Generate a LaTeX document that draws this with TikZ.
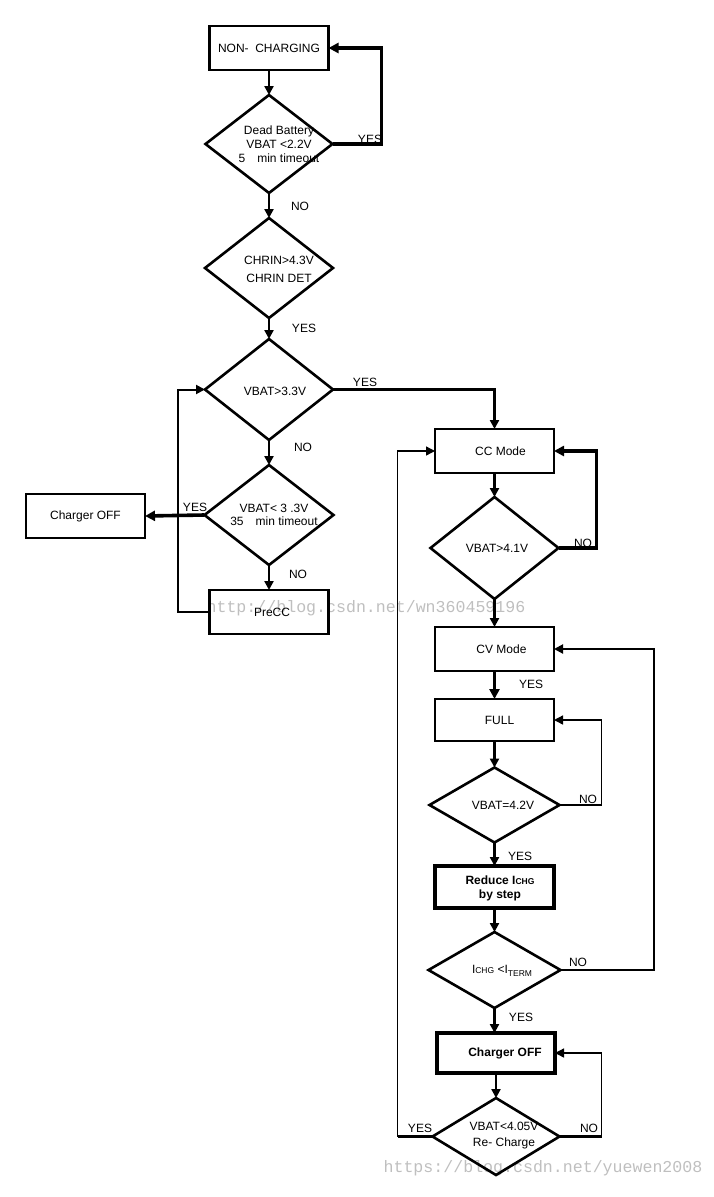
\documentclass[tikz,border=0pt]{standalone}
\usepackage{fontspec}
\setmainfont{Liberation Sans}
\setmonofont{Liberation Mono}
\usetikzlibrary{arrows.meta,shapes.geometric}
\begin{document}
\begin{tikzpicture}[x=1pt,y=-1pt,
  box/.style={draw, line width=2.6pt, minimum width=119pt, minimum height=44pt, inner sep=0pt, outer sep=0pt, font=\fontsize{12}{14}\selectfont},
  boxb/.style={box, line width=4pt, font=\fontsize{12}{14}\selectfont\bfseries},
  dia/.style={draw, diamond, line width=2.6pt, inner sep=0pt, outer sep=0pt},
  txt/.style={inner sep=0pt, align=center, font=\fontsize{12}{14}\selectfont},
  lbl/.style={inner sep=0pt, font=\fontsize{12}{14}\selectfont},
  wm/.style={inner sep=0pt, font=\ttfamily\fontsize{16.6}{18}\selectfont, text=black!25},
  conn/.style={line width=2.6pt},
  arr/.style={conn, -{Triangle[length=9pt,width=9pt]}},
  arrthick/.style={line width=3.6pt, -{Triangle[length=10pt,width=10pt]}},
  arrthin/.style={line width=1.4pt, -{Triangle[length=9pt,width=9pt]}},
  arrmid/.style={line width=2pt, -{Triangle[length=9pt,width=9pt]}},
  thickline/.style={line width=3.8pt}
]
\useasboundingbox (0,0) rectangle (713,1197);
% watermarks
\node[wm] (wm1) at (366,608) {http://blog.csdn.net/wn360459196};
\node[wm] (wm2) at (543,1168) {https://blog.csdn.net/yuewen2008};

% left column
\node[box] (nc) at (269,48) {NON-\ \ CHARGING};
\node[dia, minimum width=127pt, minimum height=98pt] (d1) at (269,144) {};
\node[txt] (t1) at (279,144) {Dead Battery\\VBAT <2.2V\\5\quad min timeout};
\node[dia, minimum width=128pt, minimum height=100pt] (d2) at (269,268) {};
\node[txt] (t2) at (279,269) {CHRIN>4.3V\\[4pt]CHRIN DET};
\node[dia, minimum width=128pt, minimum height=101pt] (d3) at (269,389.5) {};
\node[txt] (t3) at (275,391) {VBAT>3.3V};
\node[dia, minimum width=129pt, minimum height=100pt] (d4) at (269,515) {};
\node[txt] (t4) at (274,515) {VBAT< 3 .3V\\[-1pt]35\quad min timeout};
\node[box] (off1) at (85.5,516) {Charger OFF};
\node[box] (pre) at (269,612) {\hspace*{6pt}PreCC};

% right column
\node[box] (cc) at (494.5,451) {\hspace*{12pt}CC Mode};
\node[dia, minimum width=128pt, minimum height=102pt] (d5) at (494.5,548) {};
\node[txt] (t5) at (497,548) {VBAT>4.1V};
\node[box] (cv) at (494.5,649) {\hspace*{14pt}CV Mode};
\node[box, minimum height=42pt] (full) at (494.5,720) {\hspace*{10pt}FULL};
\node[dia, minimum width=130pt, minimum height=75pt] (d6) at (494.5,805) {};
\node[txt] (t6) at (503,805) {VBAT=4.2V};
\node[boxb, minimum height=42pt] (red) at (494.5,887) {};
\node[txt, font=\fontsize{12}{14}\selectfont\bfseries] (tred) at (500,888) {Reduce I{\fontsize{8.5}{10}\selectfont CHG}\\by step};
\node[dia, minimum width=132pt, minimum height=76pt] (d7) at (494.5,970) {};
\node[txt] (t7) at (502,971) {I{\fontsize{8.5}{10}\selectfont CHG} <I\raisebox{-2.5pt}{\fontsize{8.5}{10}\selectfont TERM}};
\node[boxb, minimum width=118pt, minimum height=40pt] (off2) at (496,1053) {\hspace*{18pt}Charger OFF};
\node[dia, minimum width=127pt, minimum height=77pt] (d8) at (496,1136.5) {};
\node[txt] (t8) at (504,1136) {VBAT<4.05V\\[2pt]Re- Charge};

% connectors, left column
\draw[arr] (nc.south) -- (d1.north);
\draw[arrthick] (d1.east) -- ++(49,0) |- (nc.east);
\draw[arr] (d1.south) -- (d2.north);
\draw[arr] (d2.south) -- (d3.north);
\draw[arr] (d3.east) -| (cc.north);
\draw[arr] (d3.south) -- (d4.north);
\draw[arrthick] (d4.west) -- (off1.east);
\draw[arr] (d4.south) -- (pre.north);
\draw[arrmid] (pre.west) -- ++(-32,0) |- (d3.west);

% connectors, right column
\draw[arr] (cc.south) -- (d5.north);
\draw[arrthick] (d5.east) -- ++(38,0) |- (cc.east);
\draw[arr] (d5.south) -- (cv.north);
\draw[arrthick] (cv.south) -- (full.north);
\draw[arr] (full.south) -- (d6.north);
\draw[arrthin] (d6.east) -- ++(42,0) |- (full.east);
\draw[arr] (d6.south) -- (red.north);
\draw[arr] (red.south) -- (d7.north);
\draw[arrmid] (d7.east) -- ++(93,0) |- (cv.east);
\draw[arr] (d7.south) -- (d7.south |- off2.north);
\draw[arr] (off2.south) -- (d8.north);
\draw[thickline] (d8.east) -- ++(42,0) coordinate (n8);
\draw[arrthin] (n8) |- (off2.east);
\draw[thickline] (d8.west) -- ++(-35,0) coordinate (y8);
\draw[arrthin] (y8) |- (cc.west);

% labels
\node[lbl] (l1) at (370,139) {YES};
\node[lbl] (l2) at (300,206) {NO};
\node[lbl] (l3) at (304,328) {YES};
\node[lbl] (l4) at (365,382) {YES};
\node[lbl] (l5) at (303,447) {NO};
\node[lbl] (l6) at (195,507) {YES};
\node[lbl] (l7) at (298,574) {NO};
\node[lbl] (l8) at (583,543) {NO};
\node[lbl] (l9) at (531,684) {YES};
\node[lbl] (l10) at (588,799) {NO};
\node[lbl] (l11) at (520,856) {YES};
\node[lbl] (l12) at (578,962) {NO};
\node[lbl] (l13) at (521,1017) {YES};
\node[lbl] (l14) at (420,1128) {YES};
\node[lbl] (l15) at (589,1128) {NO};
\end{tikzpicture}
\end{document}
